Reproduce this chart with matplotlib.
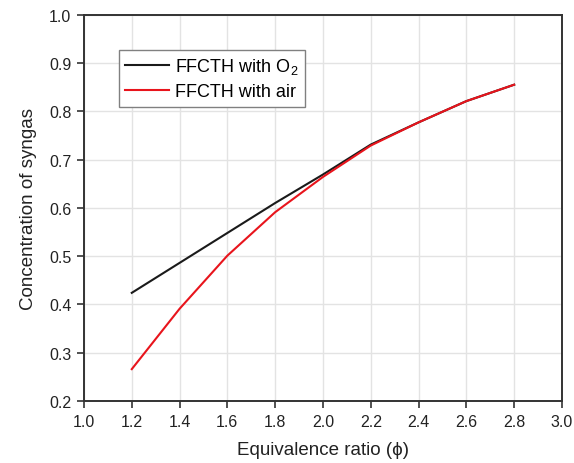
import matplotlib
matplotlib.use("Agg")
import matplotlib.pyplot as plt

plt.rcParams['font.family'] = ['Liberation Sans', 'DejaVu Sans']
plt.rcParams['mathtext.fontset'] = 'custom'
plt.rcParams['mathtext.rm'] = 'Liberation Sans'

# Equivalence ratio and syngas concentration for both oxidants
phi = [1.2, 1.4, 1.6, 1.8, 2.0, 2.2, 2.4, 2.6, 2.8]
syngas_o2 = [0.424, 0.486, 0.548, 0.610, 0.669, 0.731, 0.777, 0.821, 0.855]
syngas_air = [0.266, 0.391, 0.501, 0.591, 0.664, 0.729, 0.777, 0.821, 0.855]

x_ticks = [1.0, 1.2, 1.4, 1.6, 1.8, 2.0, 2.2, 2.4, 2.6, 2.8, 3.0]
y_ticks = [0.2, 0.3, 0.4, 0.5, 0.6, 0.7, 0.8, 0.9, 1.0]

fig = plt.figure(figsize=(5.74, 4.64), dpi=100)
ax = fig.add_axes([0.1463, 0.1336, 0.8327, 0.8326])

ax.plot(phi, syngas_o2, color='#1a1a1a', lw=1.5, label='FFCTH with O$_2$', zorder=3)
ax.plot(phi, syngas_air, color='#e8141c', lw=1.5, label='FFCTH with air', zorder=4)

ax.set_xlim(1.0, 3.0)
ax.set_ylim(0.2, 1.0)
ax.set_xticks(x_ticks)
ax.set_yticks(y_ticks)
ax.set_xticklabels([f'{v:.1f}' for v in x_ticks])
ax.set_yticklabels([f'{v:.1f}' for v in y_ticks])

ax.grid(True, color='#e3e3e3', lw=1.0, zorder=0)
ax.set_axisbelow(True)
for s in ax.spines.values():
    s.set_color('#333333')
    s.set_linewidth(1.4)
ax.tick_params(axis='both', direction='out', length=5, width=1.2, color='#333333',
               labelsize=11.5, labelcolor='#222222', pad=4)

ax.set_xlabel('Equivalence ratio (ϕ)', fontsize=13.5, color='#222222', labelpad=9)
ax.set_ylabel('Concentration of syngas', fontsize=13.5, color='#222222', labelpad=9)

leg = ax.legend(loc='upper left', bbox_to_anchor=(0.073, 0.909), fontsize=13,
                frameon=True, fancybox=False, edgecolor='#808080', framealpha=1,
                handlelength=2.4, handletextpad=0.35, borderpad=0.35, labelspacing=0.4,
                borderaxespad=0)
leg.get_frame().set_linewidth(1.0)

fig.savefig('out.png', dpi=100)
